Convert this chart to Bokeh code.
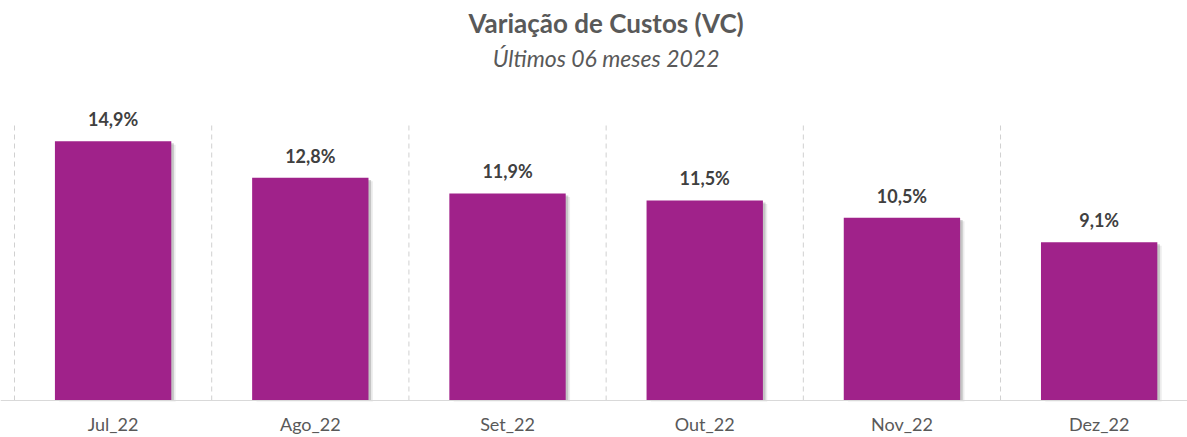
from bokeh.plotting import figure
from bokeh.models import Range1d, ColumnDataSource, Span
from bokeh.core.properties import value
from bokeh.embed import file_html
from bokeh.resources import INLINE

categories = ["Jul_22", "Ago_22", "Set_22", "Out_22", "Nov_22", "Dez_22"]
values = [14.9, 12.8, 11.9, 11.5, 10.5, 9.1]
title_text = "Variação de Custos (VC)"
subtitle_text = "Últimos 06 meses 2022"

BAR = "#A0228A"
FONT = "Lato"
n = len(categories)
xs = [i + 0.5 for i in range(n)]
labels = [f"{v:.1f}".replace(".", ",") + "%" for v in values]

src = ColumnDataSource(dict(x=xs, top=values, lab=labels, cat=categories,
                            zero=[0] * n,
                            xs1=[x + 0.013 for x in xs],
                            top1=[v - 0.12 for v in values],
                            xs2=[x + 0.022 for x in xs],
                            top2=[v - 0.2 for v in values]))

p = figure(width=1187, height=437, output_backend="svg", toolbar_location=None,
           x_range=Range1d(-0.071, 5.948), y_range=Range1d(-2.126, 22.99),
           min_border_left=0, min_border_right=0, min_border_top=0, min_border_bottom=0)
p.outline_line_color = None
p.grid.visible = False
p.axis.visible = False
p.background_fill_color = "white"

# dashed separators between categories
bx = list(range(n + 1))
p.segment(x0=bx, x1=bx, y0=[0] * (n + 1), y1=[16.03] * (n + 1),
          line_color="#D0D0D0", line_dash="5 4", line_width=1)

# baseline
p.add_layout(Span(location=0, dimension="width", line_color="#D9D9D9", line_width=1))

# shadow
p.vbar(x="xs2", top="top2", bottom=-0.05, width=0.59, source=src,
       fill_color="#7f7f7f", fill_alpha=0.15, line_color=None)
p.vbar(x="xs1", top="top1", bottom=0, width=0.59, source=src,
       fill_color="#7f7f7f", fill_alpha=0.35, line_color=None)
p.vbar(x="x", top="top", width=0.59, source=src, fill_color=BAR, line_color=None)

# value labels
p.text(x="x", y="top", text="lab", source=src, y_offset=-11,
       text_align="center", text_baseline="bottom",
       text_font=value(FONT), text_font_size="18px", text_font_style="bold",
       text_color="#404040")

# category labels
p.text(x="x", y="zero", text="cat", source=src, y_offset=23,
       text_align="center", text_baseline="middle",
       text_font=value(FONT), text_font_size="18px", text_color="#595959")

# titles
p.text(x=[n / 2], y=[21.72], text=[title_text], text_align="center",
       text_baseline="middle", text_font=value(FONT), text_font_size="26px",
       text_font_style="bold", text_color="#595959")
p.text(x=[n / 2], y=[19.71], text=[subtitle_text], text_align="center",
       text_baseline="middle", text_font=value(FONT), text_font_size="23px",
       text_font_style="italic", text_color="#595959")

open("out.html", "w").write(file_html(p, INLINE))
